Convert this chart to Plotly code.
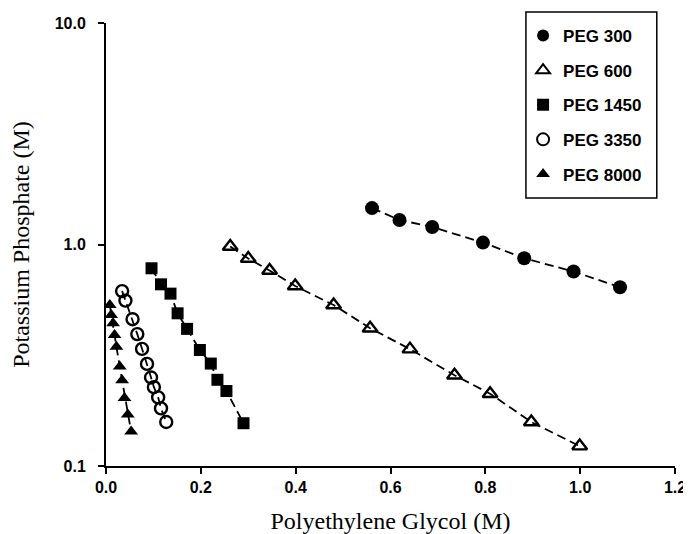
import plotly.graph_objects as go

# ---- data ----
peg300_x = [0.561, 0.619, 0.688, 0.795, 0.882, 0.986, 1.084]
peg300_y = [1.46, 1.29, 1.20, 1.02, 0.867, 0.755, 0.641]

peg600_x = [0.262, 0.300, 0.345, 0.399, 0.480, 0.557, 0.641, 0.735, 0.810, 0.897, 0.999]
peg600_y = [0.98, 0.864, 0.763, 0.650, 0.533, 0.419, 0.337, 0.257, 0.212, 0.158, 0.123]

peg1450_x = [0.096, 0.116, 0.136, 0.151, 0.171, 0.198, 0.221, 0.235, 0.254, 0.290]
peg1450_y = [0.781, 0.661, 0.600, 0.489, 0.416, 0.334, 0.290, 0.245, 0.218, 0.156]

peg3350_x = [0.034, 0.041, 0.056, 0.066, 0.076, 0.0865, 0.095, 0.101, 0.110, 0.116, 0.127]
peg3350_y = [0.616, 0.558, 0.460, 0.394, 0.338, 0.289, 0.251, 0.227, 0.204, 0.182, 0.158]

peg8000_x = [0.008, 0.011, 0.015, 0.018, 0.022, 0.029, 0.034, 0.039, 0.046, 0.053]
peg8000_y = [0.533, 0.481, 0.441, 0.390, 0.345, 0.281, 0.244, 0.203, 0.171, 0.143]

series_names = ["PEG 300", "PEG 600", "PEG 1450", "PEG 3350", "PEG 8000"]
x_ticks = [0.0, 0.2, 0.4, 0.6, 0.8, 1.0, 1.2]
x_tick_text = ["0.0", "0.2", "0.4", "0.6", "0.8", "1.0", "1.2"]
y_ticks = [0.1, 1.0, 10.0]
y_tick_text = ["0.1", "1.0", "10.0"]

series = [
    (peg300_x, peg300_y, dict(symbol="circle", size=14, color="black")),
    (peg600_x, peg600_y, dict(symbol="triangle-up-open", size=13, color="black", line=dict(width=2.4, color="black"))),
    (peg1450_x, peg1450_y, dict(symbol="square", size=12, color="black")),
    (peg3350_x, peg3350_y, dict(symbol="circle-open", size=12, color="black", line=dict(width=2.4, color="black"))),
    (peg8000_x, peg8000_y, dict(symbol="triangle-up", size=12, color="black")),
]

fig = go.Figure()
for (xs, ys, mk), name in zip(series, series_names):
    fig.add_trace(go.Scatter(x=xs, y=ys, mode="lines", showlegend=False,
                             line=dict(color="black", width=1.8, dash="9px,5px"),
                             hoverinfo="skip"))
for (xs, ys, mk), name in zip(series, series_names):
    fig.add_trace(go.Scatter(x=xs, y=ys, mode="markers", name=name, marker=mk,
                             legendgroup=name))

# legend frame
fig.add_shape(type="rect", xref="paper", yref="paper",
              x0=0.738, x1=0.968, y0=0.605, y1=1.0248,
              line=dict(color="black", width=1.5), fillcolor="rgba(0,0,0,0)", layer="above")

# page body has an 8px default margin; the figure is offset by it
fig.update_layout(
    width=683, height=526,
    paper_bgcolor="white", plot_bgcolor="white",
    margin=dict(l=98, r=16, t=15, b=68, autoexpand=False),
    showlegend=True,
    legend=dict(
        x=0.733, y=1.0113, xanchor="left", yanchor="top",
        borderwidth=0, bgcolor="rgba(0,0,0,0)",
        font=dict(family="Liberation Sans, Arial", size=17, color="black", weight="bold"),
        tracegroupgap=9.5, itemsizing="constant",
    ),
    xaxis=dict(
        range=[0, 1.2], tickvals=x_ticks, ticktext=x_tick_text, automargin=False,
        showgrid=False, zeroline=False, showline=True, linecolor="black", linewidth=2,
        ticks="outside", ticklen=6, tickwidth=2, tickcolor="black", ticklabeloverflow="allow",
        tickfont=dict(family="Liberation Sans, Arial", size=16, color="black", weight="bold"),
        title=dict(text="Polyethylene Glycol (M)", standoff=19,
                   font=dict(family="Liberation Serif, Times New Roman", size=24, color="black")),
    ),
    yaxis=dict(
        type="log", range=[-1, 1], tickvals=y_ticks, ticktext=y_tick_text, automargin=False,
        showgrid=False, zeroline=False, showline=True, linecolor="black", linewidth=2,
        ticks="outside", ticklen=6, tickwidth=2, tickcolor="black",
        tickfont=dict(family="Liberation Sans, Arial", size=16, color="black", weight="bold"),
        ticklabelstandoff=9,
        title=dict(text="Potassium Phosphate (M)", standoff=22,
                   font=dict(family="Liberation Serif, Times New Roman", size=24, color="black")),
    ),
)

fig.write_html("out.html")
